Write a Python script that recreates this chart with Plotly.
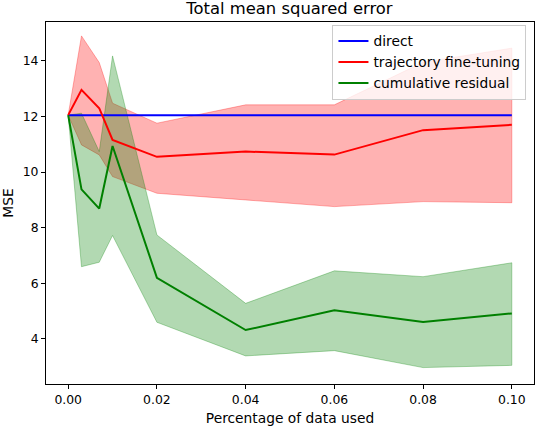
import plotly.graph_objects as go

# ---------------------------------------------------------------------------
# Data
# ---------------------------------------------------------------------------
PCT = [0.0, 0.003, 0.007, 0.01, 0.02, 0.04, 0.06, 0.08, 0.10]

DIRECT = [12.05] * len(PCT)

TRAJ_MEAN = [12.05, 12.96, 12.30, 11.16, 10.55, 10.74, 10.63, 11.51, 11.70]
TRAJ_UPPER = [12.05, 14.90, 13.94, 12.48, 11.76, 12.42, 12.42, 13.95, 14.46]
TRAJ_LOWER = [12.05, 10.98, 10.62, 9.84, 9.24, 9.00, 8.76, 8.94, 8.90]

CUM_MEAN = [12.05, 9.38, 8.69, 10.94, 6.20, 4.32, 5.03, 4.61, 4.92]
CUM_UPPER = [12.05, 12.12, 10.74, 14.18, 7.74, 5.28, 6.45, 6.24, 6.74]
CUM_LOWER = [12.05, 6.60, 6.76, 7.72, 4.60, 3.39, 3.58, 2.97, 3.05]

X_TICKS = [0.0, 0.02, 0.04, 0.06, 0.08, 0.10]
X_TICK_TEXT = ["0.00", "0.02", "0.04", "0.06", "0.08", "0.10"]
Y_TICKS = [4, 6, 8, 10, 12, 14]

FONT = "DejaVu Sans, Arial, sans-serif"


def band(upper, lower, rgb):
    return go.Scatter(
        x=PCT + PCT[::-1],
        y=upper + lower[::-1],
        fill="toself",
        fillcolor=f"rgba({rgb},0.3)",
        line=dict(color=f"rgba({rgb},0.3)", width=1),
        mode="lines",
        hoverinfo="skip",
        showlegend=False,
    )


fig = go.Figure()

# fills under the lines (matplotlib zorder)
fig.add_trace(band(TRAJ_UPPER, TRAJ_LOWER, "255,0,0"))
fig.add_trace(band(CUM_UPPER, CUM_LOWER, "0,128,0"))

fig.add_trace(go.Scatter(x=PCT, y=DIRECT, mode="lines", name="direct",
                         line=dict(color="#0000ff", width=2)))
fig.add_trace(go.Scatter(x=PCT, y=TRAJ_MEAN, mode="lines",
                         name="trajectory fine-tuning",
                         line=dict(color="#ff0000", width=2)))
fig.add_trace(go.Scatter(x=PCT, y=CUM_MEAN, mode="lines",
                         name="cumulative residual",
                         line=dict(color="#008000", width=2)))

axis_common = dict(
    showgrid=False, zeroline=False,
    showline=True, linecolor="black", linewidth=1, mirror=True,
    ticks="outside", ticklen=4, tickcolor="black", tickwidth=1,
    tickfont=dict(size=12.4, color="black"),
)

fig.update_layout(
    width=536, height=426,
    paper_bgcolor="white", plot_bgcolor="white",
    font=dict(family=FONT, size=13.8, color="black"),
    margin=dict(l=46, r=2, t=22, b=42),
    title=dict(text="Total mean squared error", x=0.54, xanchor="center",
               y=0.995, yanchor="top", font=dict(size=16.4, color="black")),
    xaxis=dict(**axis_common, range=[-0.005, 0.105],
               tickvals=X_TICKS, ticktext=X_TICK_TEXT,
               title=dict(text="Percentage of data used", standoff=8,
                          font=dict(size=13.8))),
    yaxis=dict(**axis_common, range=[2.38, 15.40], tickvals=Y_TICKS,
               title=dict(text="MSE", standoff=7, font=dict(size=13.8))),
    legend=dict(x=0.587, y=0.993, xanchor="left", yanchor="top",
                bgcolor="rgba(255,255,255,0.8)", bordercolor="#cccccc",
                borderwidth=1, font=dict(size=13.8, color="black"),
                tracegroupgap=0),
    showlegend=True,
)

fig.write_html("out.html", config={"displayModeBar": False},
               post_script="document.body.style.margin='0';")
